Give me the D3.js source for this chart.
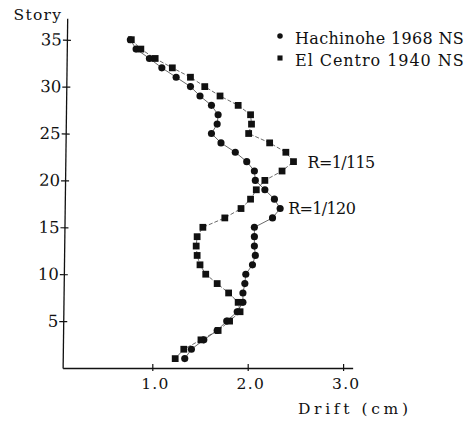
<!DOCTYPE html>
<html>
<head>
<meta charset="utf-8">
<script src="https://cdn.jsdelivr.net/npm/d3@7"></script>
<style>
body { margin: 0; background: #fff; }
text { fill: #111; }
</style>
</head>
<body>
<div id="chart"></div>
<script>
// story numbers, top to bottom
var stories = [35,34,33,32,31,30,29,28,27,26,25,24,23,22,21,20,19,18,17,16,15,14,13,12,11,10,9,8,7,6,5,4,3,2,1];
// max story drift (cm)
var hachinohe = [0.77,0.83,0.97,1.10,1.25,1.40,1.50,1.62,1.69,1.68,1.62,1.72,1.87,1.99,2.07,2.08,2.18,2.28,2.34,2.26,
                 2.07,2.07,2.07,2.08,2.05,1.98,1.97,1.95,1.95,1.89,1.78,1.68,1.54,1.41,1.34];
var elcentro  = [0.78,0.88,1.03,1.21,1.40,1.55,1.71,1.90,2.03,2.04,2.01,2.23,2.40,2.48,2.36,2.18,2.09,2.03,1.93,1.76,
                 1.53,1.47,1.46,1.47,1.50,1.56,1.68,1.80,1.90,1.92,1.81,1.69,1.51,1.33,1.24];
var xTicks = [1.0, 2.0, 3.0];
var yTicks = [5, 10, 15, 20, 25, 30, 35];
var seriesNames = ["Hachinohe 1968 NS", "El Centro 1940 NS"];
var peakLabels = ["R=1/120", "R=1/115"];

var W = 475, H = 421;
// typewriter look: serif glyphs spread out on a fixed pitch
var tw = "'DejaVu Serif', 'Liberation Serif', serif";
var pitch = 10.1;

function typed(sel, size) {
  sel.style("font-family", tw)
    .style("font-size", size + "px")
    .attr("lengthAdjust", "spacing")
    .attr("textLength", function() { return this.textContent.length * pitch - 3; });
  return sel;
}

var svg = d3.select("#chart")
  .append("svg")
    .attr("width", W)
    .attr("height", H);

var x = d3.scaleLinear()
  .domain([0.06, 3.1])
  .range([56.9 + 0.06 * 95.4, 56.9 + 3.1 * 95.4]);

var y = d3.scaleLinear()
  .domain([0, 37.3])
  .range([368, 368 - 37.3 * 9.38]);

// x axis
var xAxis = svg.append("g")
  .attr("transform", "translate(0," + y(0) + ")")
  .call(d3.axisBottom(x)
    .tickValues(xTicks)
    .tickFormat(d3.format(".1f"))
    .tickSizeInner(3)
    .tickSizeOuter(0)
    .tickPadding(6.5));
xAxis.select(".domain").attr("stroke", "#111").attr("stroke-width", 1.3);
xAxis.selectAll(".tick line").attr("y1", -4).attr("stroke", "#111").attr("stroke-width", 1.2);
xAxis.selectAll(".tick text")
  .attr("dx", 2)
  .attr("fill", "#111")
  .call(typed, 15.5);

// y axis (the scan is slightly tilted)
var yAxis = svg.append("g")
  .attr("transform", "translate(" + x(0.06) + ",0) rotate(0.75,0," + y(0) + ")")
  .call(d3.axisLeft(y)
    .tickValues(yTicks)
    .tickSizeInner(4)
    .tickSizeOuter(0)
    .tickPadding(1));
yAxis.select(".domain").attr("stroke", "#111").attr("stroke-width", 1.3);
yAxis.selectAll(".tick line").attr("x1", 4).attr("stroke", "#111").attr("stroke-width", 1.2);
yAxis.selectAll(".tick text")
  .style("font-family", "'DejaVu Serif', serif")
  .style("font-size", "16.5px")
  .attr("fill", "#111");

svg.append("text")
  .attr("x", 13.5)
  .attr("y", 19.5)
  .text("Story")
  .call(typed, 15.5);

svg.append("text")
  .attr("x", 298)
  .attr("y", 414)
  .text("Drift (cm)")
  .call(typed, 15.5)
  .attr("textLength", 110);

var dataReady = [hachinohe, elcentro].map(function(vals, i) {
  return {
    name: seriesNames[i],
    values: vals.map(function(v, j) { return {story: stories[j], drift: v}; })
  };
});

var line = d3.line()
  .x(function(d) { return x(d.drift); })
  .y(function(d) { return y(d.story); });

svg.selectAll("myLines")
  .data(dataReady)
  .enter()
  .append("path")
    .attr("d", function(d) { return line(d.values); })
    .attr("stroke", "#444")
    .attr("stroke-width", 0.8)
    .attr("stroke-dasharray", function(d, i) { return i === 1 ? "4,2" : null; })
    .attr("fill", "none");

var circleSym = d3.symbol().type(d3.symbolCircle).size(40);
var squareSym = d3.symbol().type(d3.symbolSquare).size(46);

dataReady.forEach(function(s, i) {
  svg.append("g")
    .selectAll("path")
    .data(s.values)
    .enter()
    .append("path")
      .attr("d", i === 0 ? circleSym : squareSym)
      .attr("transform", function(d) { return "translate(" + x(d.drift) + "," + y(d.story) + ")"; })
      .attr("fill", "#111");
});

// peak drift labels
dataReady.forEach(function(s, i) {
  var peak = s.values.reduce(function(a, b) { return b.drift > a.drift ? b : a; });
  svg.append("text")
    .attr("x", x(peak.drift) + (i === 0 ? 8 : 14))
    .attr("y", y(peak.story) + (i === 0 ? 5 : 6.5))
    .text(peakLabels[i])
    .call(typed, 16);
});

// legend
var legend = svg.append("g");
seriesNames.forEach(function(name, i) {
  var ly = 36 + i * 22;
  legend.append("path")
    .attr("d", d3.symbol().type(i === 0 ? d3.symbolCircle : d3.symbolSquare).size(i === 0 ? 24 : 26)())
    .attr("transform", "translate(280," + ly + ")")
    .attr("fill", "#111");
  legend.append("text")
    .attr("x", 295)
    .attr("y", ly + 7.5)
    .text(name)
    .call(typed, 16);
});
</script>
</body>
</html>
